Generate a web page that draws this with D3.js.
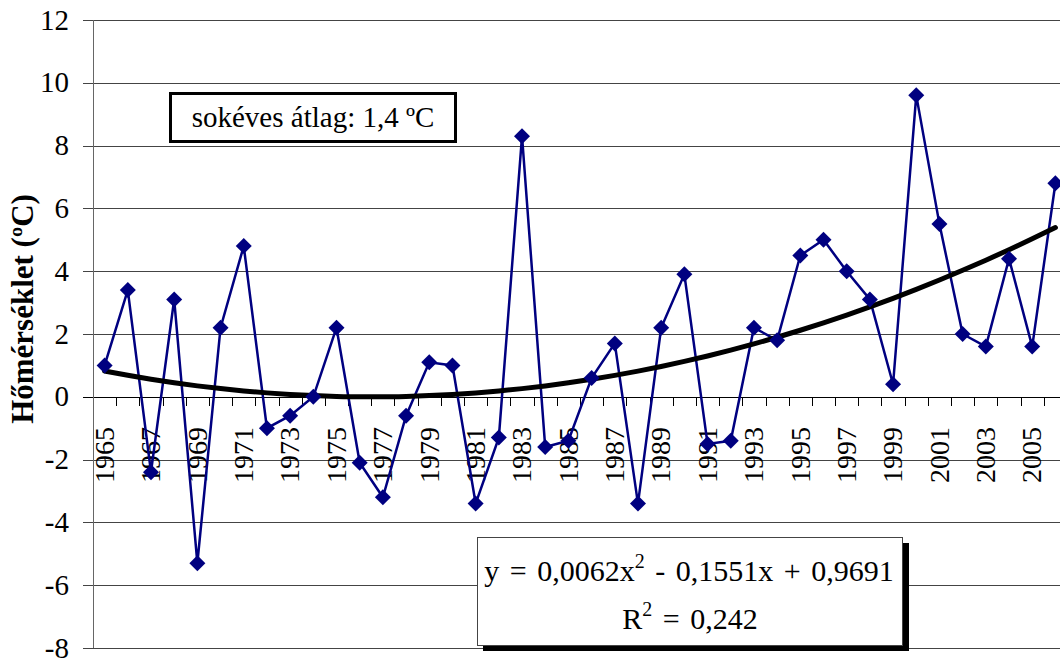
<!DOCTYPE html>
<html><head><meta charset="utf-8">
<script src="https://cdn.jsdelivr.net/npm/d3@7"></script>
<style>body{margin:0;background:#fff}svg{display:block}</style>
</head><body>
<script>
const years = d3.range(1965, 2007);
const temps = [1.0,3.4,-2.4,3.1,-5.3,2.2,4.8,-1.0,-0.6,0.0,2.2,-2.1,-3.2,-0.6,1.1,1.0,-3.4,-1.3,8.3,-1.6,-1.4,0.6,1.7,-3.4,2.2,3.9,-1.5,-1.4,2.2,1.8,4.5,5.0,4.0,3.1,0.4,9.6,5.5,2.0,1.6,4.4,1.6,6.8];
const yTicks = [12,10,8,6,4,2,0,-2,-4,-6,-8];
const xLabelYears = years.filter((y,i)=>i%2===0);
const trendCoef = [0.0062, -0.1551, 0.9691]; // y = a x^2 + b x + c, x = 1..n
const avgText = "sokéves átlag: 1,4 ºC";
const yTitle = "Hőmérséklet (ºC)";

(function(){
const W=1060,H=661;
const FF="'Liberation Serif', 'DejaVu Serif', 'Times New Roman', serif";
const svg=d3.select("body").append("svg").attr("width",W).attr("height",H).attr("font-family",FF);
const pL=93, pR=1067, pT=20, pB=648;
const x=d3.scaleBand().domain(years).range([pL,pR]);
const y=d3.scaleLinear().domain([-8,12]).range([pB,pT]);

// gridlines
svg.append("g").selectAll("line").data(yTicks).join("line")
 .attr("x1",pL-10).attr("x2",W).attr("y1",d=>Math.round(y(d))+0.5).attr("y2",d=>Math.round(y(d))+0.5)
 .attr("stroke",d=>d===0?"#000":"#444").attr("stroke-width",1);
// left axis line
svg.append("line").attr("x1",pL+0.5).attr("x2",pL+0.5).attr("y1",pT).attr("y2",pB).attr("stroke","#666");
// y labels
svg.append("g").selectAll("text").data(yTicks).join("text")
 .attr("x",69).attr("y",d=>y(d)).attr("dy","0.33em").attr("text-anchor","end")
 .attr("font-family",FF).attr("font-size",29).text(d=>d);
// x ticks at band boundaries
const y0=Math.round(y(0));
svg.append("g").selectAll("line").data(years.slice(1)).join("line")
 .attr("x1",d=>Math.round(x(d))+0.5).attr("x2",d=>Math.round(x(d))+0.5).attr("y1",y0).attr("y2",y0+9)
 .attr("stroke","#000");
// x labels
svg.append("g").selectAll("text").data(xLabelYears).join("text")
 .attr("transform",d=>`translate(${x(d)+x.bandwidth()/2},${y0+30}) rotate(-90)`)
 .attr("text-anchor","end").attr("dy","0.33em").attr("font-family",FF).attr("font-size",28).text(d=>d);
// y title
svg.append("text").attr("transform","translate(33,309) rotate(-90)").attr("text-anchor","middle")
 .attr("font-family",FF).attr("font-size",31).attr("font-weight","bold").text(yTitle);

// data line
const cx=d=>x(d)+x.bandwidth()/2;
const pts=years.map((yr,i)=>({yr,v:temps[i]}));
svg.append("path").datum(pts).attr("fill","none").attr("stroke","#000080").attr("stroke-width",2.5)
 .attr("d",d3.line().x(d=>cx(d.yr)).y(d=>y(d.v)));
// trend line
const trend=years.map((yr,i)=>{const t=i+1;return {yr,v:trendCoef[0]*t*t+trendCoef[1]*t+trendCoef[2]};});
svg.append("path").datum(trend).attr("fill","none").attr("stroke","#000").attr("stroke-width",5)
 .attr("stroke-linecap","round").attr("d",d3.line().curve(d3.curveMonotoneX).x(d=>cx(d.yr)).y(d=>y(d.v)));
// markers
svg.append("g").selectAll("path").data(pts).join("path")
 .attr("transform",d=>`translate(${cx(d.yr)},${y(d.v)})`).attr("d","M0,-8L8,0L0,8L-8,0Z").attr("fill","#000080");

// average box
svg.append("rect").attr("x",170.5).attr("y",93.5).attr("width",285).attr("height",48).attr("fill","#fff").attr("stroke","#000").attr("stroke-width",3);
svg.append("text").attr("x",313).attr("y",127).attr("text-anchor","middle").attr("font-family",FF).attr("font-size",29).text(avgText);

// equation box with shadow
svg.append("rect").attr("x",483).attr("y",543).attr("width",426).attr("height",108).attr("fill","#000");
svg.append("rect").attr("x",477.5).attr("y",537.5).attr("width",425).attr("height",108).attr("fill","#fff").attr("stroke","#444").attr("stroke-width",1);
const eq=svg.append("text").attr("x",689).attr("y",581).attr("text-anchor","middle").attr("font-family",FF).attr("font-size",30).attr("word-spacing",3);
eq.append("tspan").text("y = 0,0062x");
eq.append("tspan").attr("dy",-13).attr("font-size",20).text("2");
eq.append("tspan").attr("dy",13).text(" - 0,1551x + 0,9691");
const r2=svg.append("text").attr("x",690).attr("y",629).attr("text-anchor","middle").attr("font-family",FF).attr("font-size",30).attr("word-spacing",3);
r2.append("tspan").text("R");
r2.append("tspan").attr("dy",-13).attr("font-size",20).text("2");
r2.append("tspan").attr("dy",13).text(" = 0,242");
})();
</script>
</body></html>
